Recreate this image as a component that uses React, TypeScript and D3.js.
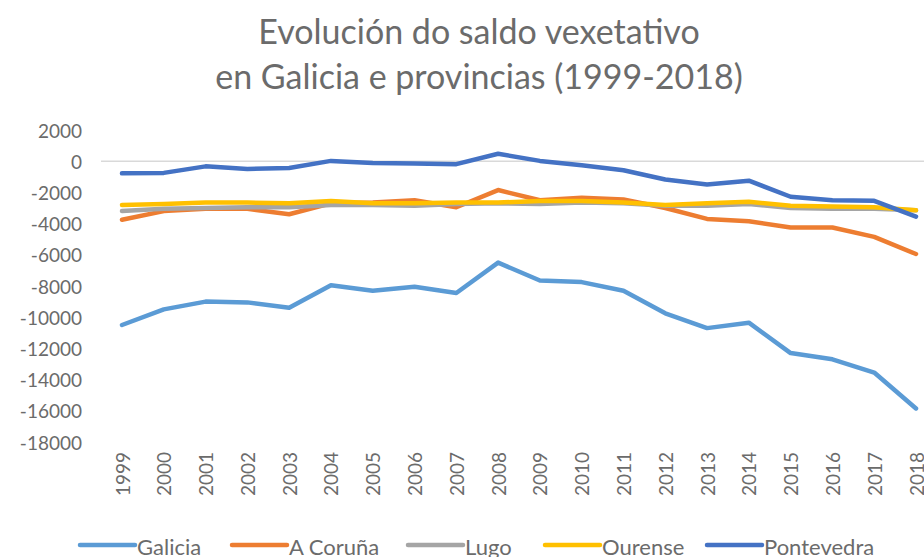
import React from "react";
import * as d3 from "d3";

const years = ["1999","2000","2001","2002","2003","2004","2005","2006","2007","2008","2009","2010","2011","2012","2013","2014","2015","2016","2017","2018"];
const galicia = [-10500,-9500,-9000,-9050,-9400,-7950,-8300,-8050,-8450,-6500,-7650,-7750,-8300,-9750,-10700,-10350,-12300,-12700,-13550,-15850];
const aCoruna = [-3750,-3200,-3050,-3050,-3400,-2700,-2650,-2500,-2950,-1850,-2500,-2350,-2450,-3000,-3700,-3850,-4250,-4250,-4850,-5950];
const lugo = [-3200,-3050,-3000,-2950,-2950,-2800,-2800,-2850,-2750,-2700,-2750,-2650,-2700,-2850,-2850,-2750,-3000,-3050,-3050,-3150];
const ourense = [-2800,-2750,-2650,-2650,-2700,-2550,-2700,-2700,-2650,-2650,-2550,-2550,-2650,-2800,-2700,-2600,-2850,-2900,-2950,-3150];
const pontevedra = [-780,-750,-330,-500,-430,20,-110,-150,-190,480,20,-260,-580,-1170,-1500,-1250,-2280,-2500,-2540,-3550];
const yTicks = [2000,0,-2000,-4000,-6000,-8000,-10000,-12000,-14000,-16000,-18000];
const seriesNames = ["Galicia","A Coruña","Lugo","Ourense","Pontevedra"];
const seriesColors = ["#5B9BD5","#ED7D31","#A5A5A5","#FFC000","#4472C4"];
const seriesValues = [galicia, aCoruna, lugo, ourense, pontevedra];

const W = 924, H = 557;
const FONT = "Lato, 'Open Sans', sans-serif";
const TXT = "#6b6b6b";

export default function App() {
  const x = d3.scalePoint<string>().domain(years).range([122, 916]);
  const y = d3.scaleLinear().domain([-18000, 2000]).range([442, 130]);
  const line = d3.line<number>().x((_, i) => x(years[i])!).y((d) => y(d));
  const legendX = [80, 232, 408, 545, 707];
  return (
    <svg width={W} height={H} style={{ position: "absolute", left: 0, top: 0, background: "#fff" }}>
      <rect x={0} y={0} width={W} height={H} fill="#fff" />
      <text x={479} y={44} textAnchor="middle" fontFamily={FONT} fontSize={34} fill={TXT}>Evolución do saldo vexetativo</text>
      <text x={479} y={89} textAnchor="middle" fontFamily={FONT} fontSize={34} fill={TXT}>en Galicia e provincias (1999-2018)</text>
      {yTicks.map((t) => (
        <text key={t} x={82} y={y(t)} textAnchor="end" dominantBaseline="central" fontFamily={FONT} fontSize={19} fill={TXT}>{t}</text>
      ))}
      <line x1={101} x2={W} y1={y(0)} y2={y(0)} stroke="#D9D9D9" strokeWidth={1.5} />
      {years.map((yr) => (
        <text key={yr} transform={`translate(${x(yr)},452) rotate(-90)`} textAnchor="end" dominantBaseline="central" fontFamily={FONT} fontSize={19} fill={TXT}>{yr}</text>
      ))}
      {seriesValues.map((vals, i) => (
        <path key={seriesNames[i]} d={line(vals)!} fill="none" stroke={seriesColors[i]} strokeWidth={4.5} strokeLinejoin="round" strokeLinecap="round" />
      ))}
      {seriesNames.map((n, i) => (
        <g key={n}>
          <line x1={legendX[i]} x2={legendX[i] + 55} y1={545} y2={545} stroke={seriesColors[i]} strokeWidth={4.5} strokeLinecap="round" />
          <text x={legendX[i] + 57} y={546} dominantBaseline="central" fontFamily={FONT} fontSize={22} fill={TXT}>{n}</text>
        </g>
      ))}
    </svg>
  );
}
